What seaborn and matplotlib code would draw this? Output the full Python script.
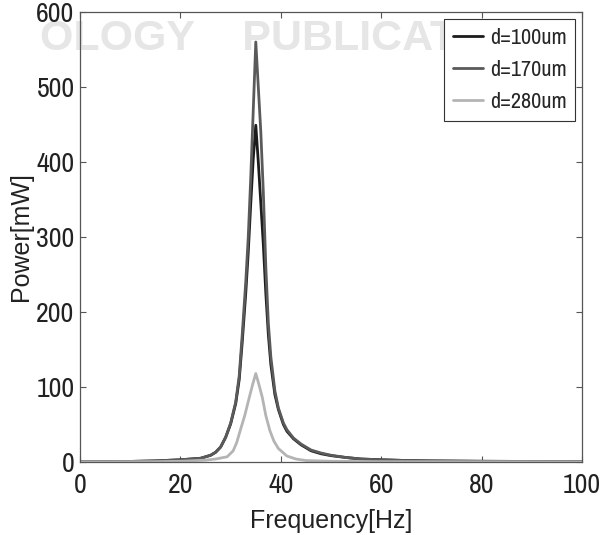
import numpy as np
import pandas as pd
import seaborn as sns
import matplotlib.pyplot as plt
from matplotlib import font_manager

# Curvas (frecuencia en Hz, potencia en mW)
freq_100 = [0, 10, 15, 20, 22, 24, 25, 26, 27, 28, 29, 30, 31, 31.7, 32.3, 33, 33.5, 34, 34.5, 35,
            35.5, 36, 36.5, 37, 37.5, 38, 38.8, 39.5, 40.5, 41.2, 42.5, 44, 46, 48, 50, 53, 56, 60, 65, 70, 80, 100]
power_100 = [0.3, 0.8, 1.5, 3, 4, 5, 7, 9, 13, 20, 33, 51, 78, 110, 160, 225, 280, 345, 405, 449,
             400, 345, 290, 225, 170, 130, 90, 70, 50, 41, 31, 23, 15, 11, 8.5, 6, 4, 3, 2, 1.5, 1, 0.5]

freq_170 = [0, 10, 15, 20, 22, 24, 25, 26, 27, 28, 29, 30, 31, 31.7, 32.3, 33, 33.5, 34, 34.5, 35,
            35.5, 36, 36.5, 37, 37.5, 38, 38.8, 39.5, 40.5, 41.2, 42.5, 44, 46, 48, 50, 53, 56, 60, 65, 70, 80, 100]
power_170 = [0.3, 0.8, 1.5, 3, 4, 5, 7, 9, 13, 20, 33, 52, 80, 115, 170, 240, 300, 380, 470, 560,
             500, 440, 360, 260, 185, 140, 95, 72, 52, 43, 32, 24, 16, 12, 9, 6, 4, 3, 2, 1.5, 1, 0.5]

freq_280 = [0, 15, 20, 25, 27, 29.3, 30.5, 31.2, 31.9, 32.8, 33.7, 34.4, 35,
            35.6, 36.3, 37, 37.8, 38.6, 39.5, 41.2, 43, 45, 50, 60, 100]
power_280 = [0.2, 0.5, 1, 2.5, 4, 7, 15, 26, 42, 62, 86, 104, 118,
             104, 86, 62, 42, 28, 18, 8, 4, 2, 1, 0.5, 0.2]

labels = ['d=100um', 'd=170um', 'd=280um']
colors = ['#1c1c1c', '#5a5a5a', '#b4b4b4']

x_ticks = [0, 20, 40, 60, 80, 100]
y_ticks = [0, 100, 200, 300, 400, 500, 600]

df = pd.concat([
    pd.DataFrame({'f': freq_100, 'p': power_100, 'serie': labels[0]}),
    pd.DataFrame({'f': freq_170, 'p': power_170, 'serie': labels[1]}),
    pd.DataFrame({'f': freq_280, 'p': power_280, 'serie': labels[2]}),
])

sns.set_style('white')
plt.rcParams['font.family'] = ['Liberation Sans', 'DejaVu Sans']

# buscar una fuente estrecha para los numeros (como en el original)
narrow = None
for f in font_manager.fontManager.ttflist:
    if 'Narrow' in f.name or 'Condensed' in f.name:
        narrow = f.name
        break
for f in font_manager.fontManager.ttflist:
    if f.name == 'Liberation Sans Narrow':
        narrow = f.name
if narrow is None:
    narrow = 'Liberation Sans'

fig = plt.figure(figsize=(6.02, 5.35), dpi=100)
# marca de agua tenue del original
fig.text(0.5, 0.928, 'OLOGY    PUBLICATIONS', ha='center', va='center', fontsize=31,
         fontweight='bold', color='#e6e6e6', zorder=-5)

ax = fig.add_axes([0.133, 0.1364, 0.834, 0.8412])
ax.patch.set_alpha(0)

sns.lineplot(data=df, x='f', y='p', hue='serie', palette=colors, hue_order=labels,
             estimator=None, sort=False, linewidth=2.0, ax=ax)

ax.set_xlim(0, 100)
ax.set_ylim(0, 600)
ax.set_xticks(x_ticks)
ax.set_yticks(y_ticks)
tick_font = {'family': narrow, 'size': 20}
ax.set_xticklabels([str(t) for t in x_ticks], fontdict=tick_font, color='#222222')
ax.set_yticklabels([str(t) for t in y_ticks], fontdict=tick_font, color='#222222')
ax.tick_params(direction='in', length=4, width=0.8, color='#555555',
               top=True, right=True, bottom=True, left=True)
ax.tick_params(axis='x', pad=8)
ax.tick_params(axis='y', pad=4)
for s in ax.spines.values():
    s.set_color('#555555')
    s.set_linewidth(0.9)

ax.set_xlabel('Frequency[Hz]', fontsize=18, color='#222222', labelpad=8)
ax.set_ylabel('Power[mW]', fontsize=18, color='#222222', labelpad=2)

leg = ax.legend(loc='upper right', prop={'family': narrow, 'size': 16},
                frameon=True, fancybox=False, edgecolor='#333333', handlelength=1.35,
                borderaxespad=0.3, labelspacing=0.55, handletextpad=0.3, borderpad=0.4,
                framealpha=1)
leg.get_frame().set_linewidth(0.8)
for line in leg.get_lines():
    line.set_linewidth(2.0)

fig.savefig('out.png', dpi=100)
